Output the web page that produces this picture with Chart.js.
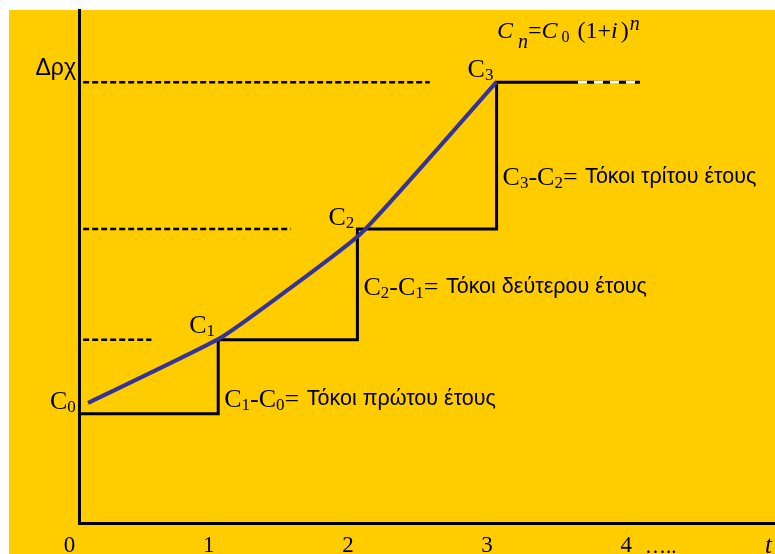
<!DOCTYPE html>
<html><head><meta charset="utf-8">
<script src="https://cdn.jsdelivr.net/npm/chart.js@4/dist/chart.umd.min.js"></script>
<style>html,body{margin:0;padding:0;background:#fff;}canvas{display:block;}</style>
</head><body>
<canvas id="c" width="775" height="554"></canvas>
<script>
// ---- data ----
const years = [0, 1, 2, 3];
const capital = [21.3, 35.7, 57.3, 85.9];          // C0..C3 levels
const curveX = [0.065, 1.03, 2.02, 3.0];           // blue growth curve
const curveY = [23.4, 36.3, 56.3, 86.0];
const guideStart = 0.03;
const guideEnd = [0.52, 1.52, 2.52];               // dashed guides for C1..C3
const stepTailEnd = 3.585;
const dashTailEnd = 4.03;
const xTickValues = [0, 1, 2, 3, 4];
const xTickLabels = ['0', '1', '2', '3', '4'];
const yTickLabel = 'Δρχ';
const pointNames = ['0', '1', '2', '3'];
const interestTexts = ['Τόκοι πρώτου έτους', 'Τόκοι δεύτερου έτους', 'Τόκοι τρίτου έτους'];

const SERIF = '"Liberation Serif", "Times New Roman", serif';
const SANS = '"Liberation Sans", Arial, sans-serif';

function drawRich(ctx, x, y, parts) {
  for (const p of parts) {
    ctx.font = p.f;
    ctx.fillText(p.t, x, y + (p.dy || 0));
    x += ctx.measureText(p.t).width + (p.gap || 0);
  }
  return x;
}

const stepPoints = years.map((x, i) => ({x, y: capital[i]}));
stepPoints.push({x: stepTailEnd, y: capital[3]});

const datasets = [
  { data: curveX.map((x, i) => ({x, y: curveY[i]})), borderColor: '#333399', borderWidth: 4, tension: 0.12, pointRadius: 0 },
  { data: [{x: stepTailEnd, y: capital[3]}, {x: dashTailEnd, y: capital[3]}], borderColor: '#ffffff', borderWidth: 3, borderDash: [9, 7], pointRadius: 0 },
  { data: stepPoints, borderColor: '#000', borderWidth: 3, stepped: 'before', pointRadius: 0 },
  { data: [{x: stepTailEnd, y: capital[3]}, {x: dashTailEnd, y: capital[3]}], borderColor: '#000', borderWidth: 3, pointRadius: 0 },
];
guideEnd.forEach((e, i) => {
  datasets.push({ data: [{x: guideStart, y: capital[i + 1]}, {x: e, y: capital[i + 1]}], borderColor: '#000', borderWidth: 2.5, borderDash: [6, 3], pointRadius: 0 });
});

const bgPlugin = {
  id: 'bg',
  beforeDraw(chart) {
    const ctx = chart.ctx;
    ctx.save();
    ctx.fillStyle = '#FFCC00';
    ctx.fillRect(9, 10, chart.width - 9, chart.height - 10);
    ctx.restore();
  }
};

const textPlugin = {
  id: 'texts',
  afterDraw(chart) {
    const ctx = chart.ctx, xs = chart.scales.x, ys = chart.scales.y;
    ctx.save();
    ctx.fillStyle = '#000';
    ctx.textAlign = 'left';
    ctx.textBaseline = 'alphabetic';
    const big = '26px ' + SERIF, sub = '17px ' + SERIF;
    // point names C0..C3
    const nameDy = [-5, -7, -4, -5];
    years.forEach((yr, i) => {
      const px = xs.getPixelForValue(yr) - 29;
      const py = ys.getPixelForValue(capital[i]) + nameDy[i];
      drawRich(ctx, px, py, [{t: 'C', f: big}, {t: pointNames[i], f: sub, dy: 3}]);
    });
    // interest labels
    const labDy = [-7, -45, -44];
    interestTexts.forEach((txt, i) => {
      const px = xs.getPixelForValue(years[i + 1]) + 6;
      const py = ys.getPixelForValue(capital[i]) + labDy[i];
      const parts = [
        {t: 'C', f: big}, {t: String(i + 1), f: sub, dy: 3},
        {t: '-', f: big},
        {t: 'C', f: big}, {t: String(i), f: sub, dy: 3},
        {t: '= ', f: big, gap: 1}
      ];
      let x = drawRich(ctx, px, py, parts);
      ctx.font = '21.5px ' + SANS;
      ctx.fillText(txt, x, py - 2);
    });
    // formula
    const fi = 'italic 24px ' + SERIF, fu = '24px ' + SERIF;
    drawRich(ctx, 497, 38, [
      {t: 'C', f: fi, gap: 5},
      {t: 'n', f: 'italic 20px ' + SERIF, dy: 10},
      {t: '=', f: fu},
      {t: 'C', f: fi, gap: 4},
      {t: '0', f: '16px ' + SERIF, dy: 4, gap: 8},
      {t: '(1+', f: fu},
      {t: 'i', f: fi, gap: 3},
      {t: ')', f: fu, gap: 1},
      {t: 'n', f: 'italic 20px ' + SERIF, dy: -8}
    ]);
    // axis extras
    ctx.font = '21px ' + SERIF;
    ctx.fillText('…..', 645, 553);
    ctx.font = 'italic 25px ' + SERIF;
    ctx.fillText('t', 765, 553);
    ctx.restore();
  }
};

new Chart(document.getElementById('c'), {
  type: 'line',
  data: { datasets },
  options: {
    responsive: false,
    animation: false,
    devicePixelRatio: 1,
    layout: { padding: { top: 10, left: 0, right: 0, bottom: 0 } },
    plugins: { legend: { display: false }, tooltip: { enabled: false } },
    scales: {
      x: {
        type: 'linear', min: 0, max: 5, position: 'bottom',
        grid: { drawOnChartArea: false, drawTicks: false },
        border: { color: '#000', width: 3 },
        afterBuildTicks: s => { s.ticks = xTickValues.map(v => ({value: v})); },
        afterFit: s => { s.height = 31; s.paddingLeft = 0; s.paddingRight = 0; },
        ticks: {
          autoSkip: false, maxRotation: 0, minRotation: 0,
          color: '#000', font: { family: SERIF, size: 23 },
          padding: 9, labelOffset: -9.5,
          callback: (v, i) => xTickLabels[i]
        }
      },
      y: {
        type: 'linear', min: 0, max: 100,
        grid: { drawOnChartArea: false, drawTicks: false },
        border: { color: '#000', width: 3 },
        afterBuildTicks: s => { s.ticks = [{value: capital[3]}]; },
        afterFit: s => { s.width = 79; s.paddingTop = 0; s.paddingBottom = 0; },
        ticks: {
          color: '#000', font: { family: SANS, size: 23 },
          padding: 3, labelOffset: -14,
          callback: () => yTickLabel
        }
      }
    }
  },
  plugins: [bgPlugin, textPlugin]
});
</script>
</body></html>
